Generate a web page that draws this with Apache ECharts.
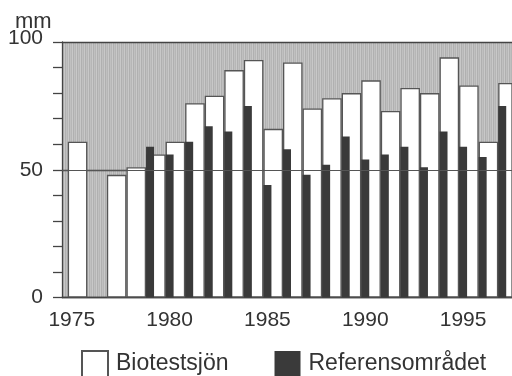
<!DOCTYPE html>
<html>
<head>
<meta charset="utf-8">
<script src="https://cdn.jsdelivr.net/npm/echarts@6/dist/echarts.min.js"></script>
<style>
  html, body { margin: 0; padding: 0; background: #fff; }
  #chart { width: 512px; height: 376px; }
</style>
</head>
<body>
<div id="chart"></div>
<script>
// Yearly values (mm)
const years = ['1975','1976','1977','1978','1979','1980','1981','1982','1983','1984','1985',
               '1986','1987','1988','1989','1990','1991','1992','1993','1994','1995','1996','1997'];
const biotestsjon = [61, null, 48, 51, 56, 61, 76, 79, 89, 93, 66,
                     92, 74, 78, 80, 85, 73, 82, 80, 94, 83, 61, 84];
const referensomradet = [null, null, null, null, 59, 56, 61, 67, 65, 75, 44,
                         58, 48, 52, 63, 54, 56, 59, 51, 65, 59, 55, 75];
const yTickLabels = { 0: '0', 50: '50', 100: '100' };

// Finely striped grey fill for the plot background
function stripePattern() {
  const c = document.createElement('canvas');
  c.width = 4; c.height = 4;
  const g = c.getContext('2d');
  const cols = ['#c8c8c8', '#b0b0b0', '#c0c0c0', '#b6b6b6'];
  cols.forEach((col, i) => { g.fillStyle = col; g.fillRect(i, 0, 1, 4); });
  return { image: c, repeat: 'repeat' };
}

const FONT = '"Liberation Sans", Arial, sans-serif';
const chart = echarts.init(document.getElementById('chart'), null, { renderer: 'canvas' });

chart.setOption({
  animation: false,
  backgroundColor: '#fff',
  grid: {
    show: true,
    left: 62, top: 42, width: 451, height: 255.5,
    backgroundColor: stripePattern(),
    borderWidth: 0
  },
  graphic: [{
    type: 'text', left: 15, top: 11,
    style: { text: 'mm', font: '22px ' + FONT, fill: '#333' }
  }],
  legend: {
    left: 81, top: 350, padding: 0,
    itemWidth: 26, itemHeight: 26, itemGap: 46,
    icon: 'rect',
    textStyle: { fontFamily: FONT, fontSize: 23, color: '#333', padding: [0, 0, 0, 3] },
    data: ['Biotestsjön', 'Referensområdet']
  },
  xAxis: {
    type: 'category',
    data: years,
    boundaryGap: true,
    axisLine: { lineStyle: { color: '#444', width: 1.3 } },
    axisTick: { alignWithLabel: true, interval: 0, length: 9, lineStyle: { color: '#444', width: 1.3 } },
    axisLabel: { interval: 4, margin: 12, fontFamily: FONT, fontSize: 21, color: '#333' },
    splitLine: { show: false }
  },
  yAxis: {
    type: 'value',
    min: 0, max: 100, interval: 50,
    axisLine: { show: true, lineStyle: { color: '#444', width: 1.3 } },
    axisTick: { show: true, length: 9, lineStyle: { color: '#444', width: 1.3 } },
    minorTick: { show: true, splitNumber: 5, length: 9, lineStyle: { color: '#444', width: 1.3 } },
    axisLabel: {
      margin: 19, fontFamily: FONT, fontSize: 21, color: '#333',
      formatter: v => v === 100 ? '{top|100}' : (yTickLabels[v] || ''),
      rich: { top: { fontFamily: FONT, fontSize: 21, color: '#333', padding: [0, 0, 8, 0] } }
    },
    splitLine: { show: true, lineStyle: { color: '#444', width: 1.3 } }
  },
  series: [
    {
      name: 'Biotestsjön',
      type: 'bar',
      data: biotestsjon,
      barWidth: '100%',
      barGap: '-100%',
      itemStyle: { color: '#fff', borderColor: '#555', borderWidth: 1.3 }
    },
    {
      name: 'Referensområdet',
      type: 'bar',
      data: referensomradet,
      barWidth: 8,
      itemStyle: { color: '#3a3a3a' },
      markLine: {
        silent: true, symbol: 'none', label: { show: false },
        lineStyle: { color: '#555', width: 1.1, type: 'solid' },
        data: [{ yAxis: 50 }]
      }
    }
  ]
});
</script>
</body>
</html>
